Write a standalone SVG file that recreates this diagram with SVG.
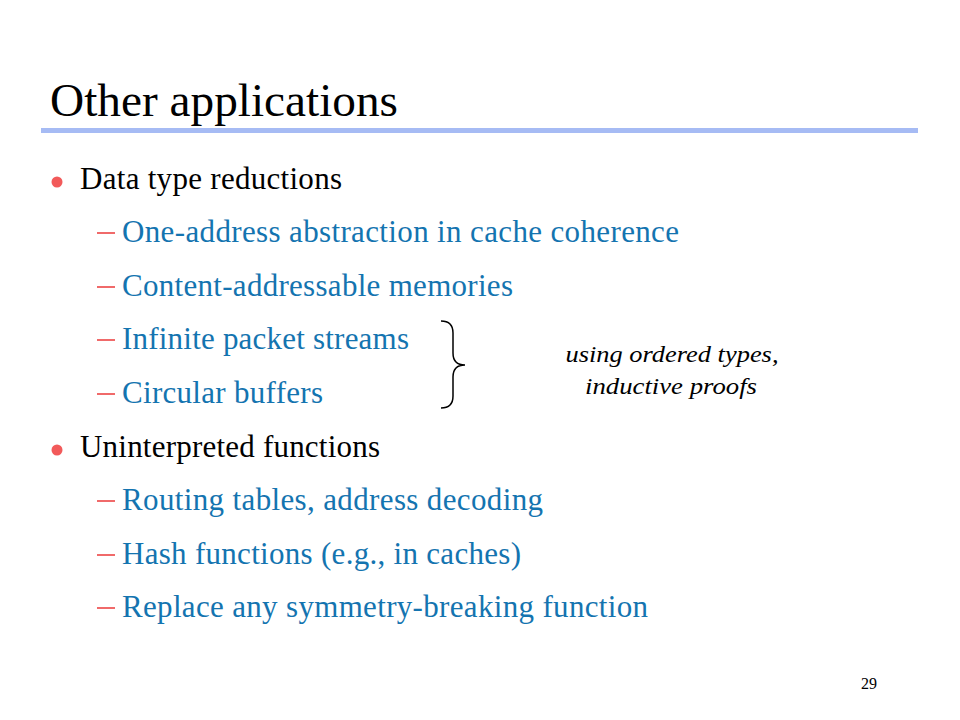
<svg xmlns="http://www.w3.org/2000/svg" width="960" height="720" viewBox="0 0 960 720">
<style>
.t{font-family:"Liberation Serif","Times New Roman",serif}
.title{font-size:47px;fill:#000}
.l1{font-size:31px;fill:#000}
.l2{font-size:31px;fill:#1474b0}
.note{font-size:24px;font-style:italic;fill:#000}
.dash{stroke:#f06a6a;stroke-width:2}
.dot{fill:#f25a5a}
</style>
<rect width="960" height="720" fill="#fff"/>
<g id="title">
<text class="t title" x="50" y="116" textLength="348" lengthAdjust="spacingAndGlyphs">Other applications</text>
<rect x="41" y="128" width="877" height="5" fill="#a6bbf4"/>
</g>
<g id="bullet1">
<circle class="dot" cx="57" cy="182" r="5.5"/>
<text class="t l1" x="80" y="189" textLength="262" lengthAdjust="spacing">Data type reductions</text>
</g>
<g id="item1">
<line class="dash" x1="97" y1="233" x2="115" y2="233"/>
<text class="t l2" x="122" y="242" textLength="557" lengthAdjust="spacing">One-address abstraction in cache coherence</text>
</g>
<g id="item2">
<line class="dash" x1="97" y1="287" x2="115" y2="287"/>
<text class="t l2" x="122" y="296" textLength="391" lengthAdjust="spacing">Content-addressable memories</text>
</g>
<g id="item3">
<line class="dash" x1="97" y1="340" x2="115" y2="340"/>
<text class="t l2" x="122" y="349" textLength="287" lengthAdjust="spacing">Infinite packet streams</text>
</g>
<g id="item4">
<line class="dash" x1="97" y1="394" x2="115" y2="394"/>
<text class="t l2" x="122" y="403" textLength="201" lengthAdjust="spacing">Circular buffers</text>
</g>
<g id="brace">
<path d="M441,321 Q453,321 453,333 L453,353 Q453,365 465,365 Q453,365 453,377 L453,396 Q453,408 441,408" fill="none" stroke="#000" stroke-width="1.5"/>
</g>
<g id="note">
<text class="t note" x="672" y="362" text-anchor="middle" textLength="213" lengthAdjust="spacingAndGlyphs">using ordered types,</text>
<text class="t note" x="671" y="394" text-anchor="middle" textLength="172" lengthAdjust="spacingAndGlyphs">inductive proofs</text>
</g>
<g id="bullet2">
<circle class="dot" cx="57" cy="450" r="5.5"/>
<text class="t l1" x="80" y="457" textLength="300" lengthAdjust="spacing">Uninterpreted functions</text>
</g>
<g id="item5">
<line class="dash" x1="97" y1="501" x2="115" y2="501"/>
<text class="t l2" x="122" y="510" textLength="421" lengthAdjust="spacing">Routing tables, address decoding</text>
</g>
<g id="item6">
<line class="dash" x1="97" y1="555" x2="115" y2="555"/>
<text class="t l2" x="122" y="564" textLength="399" lengthAdjust="spacing">Hash functions (e.g., in caches)</text>
</g>
<g id="item7">
<line class="dash" x1="97" y1="608" x2="115" y2="608"/>
<text class="t l2" x="122" y="617" textLength="526" lengthAdjust="spacing">Replace any symmetry-breaking function</text>
</g>
<g id="pagenum">
<text class="t" x="869" y="689" text-anchor="middle" font-size="16" fill="#000">29</text>
</g>
</svg>
